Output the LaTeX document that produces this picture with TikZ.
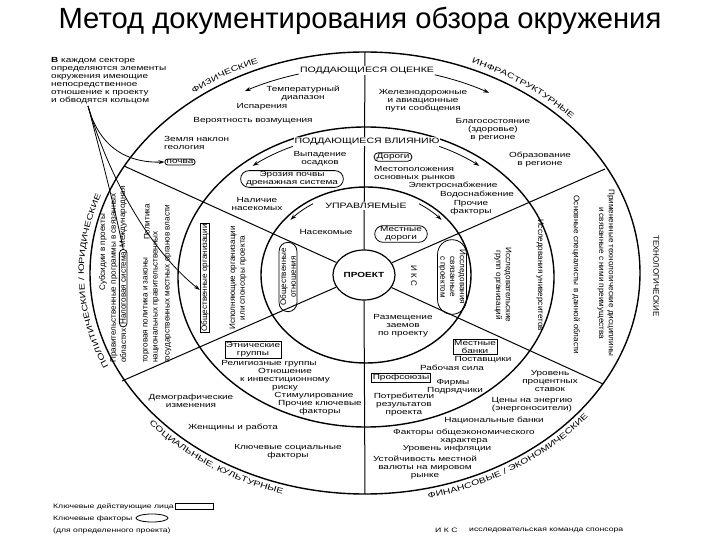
\documentclass[tikz,border=0pt]{standalone}
\usepackage{fontspec}
\setmainfont{Liberation Sans}
\newfontfamily\dfont{Liberation Sans}[FakeStretch=1.35]
\newfontfamily\vfont{Liberation Sans}
\usetikzlibrary{arrows.meta,shapes.geometric,shapes.misc,decorations.text}
\begin{document}
\begin{tikzpicture}[x=1pt,y=-1pt,
  ht/.style={font=\dfont\fontsize{7.4}{8}\selectfont, align=center, inner sep=1pt},
  vt/.style={font=\vfont\fontsize{8.1}{9.8}\selectfont, align=center, inner sep=1pt},
  lab/.style={font=\dfont\fontsize{7.8}{9}\selectfont, inner sep=1pt},
  lg/.style={font=\dfont\fontsize{6.4}{7}\selectfont, inner sep=1pt},
  oval/.style={draw, rounded rectangle, line width=0.8pt, inner sep=1.5pt},
  boxed/.style={draw, rectangle, line width=0.8pt, inner sep=1.5pt},
  ring/.style={line width=1.4pt},
  sec/.style={line width=1pt},
  arr/.style={-{Stealth[length=6pt,width=4pt]}, line width=0.8pt},
  curvlab/.style={decorate, decoration={text along path, text align=center,
     text={|\dfont\fontsize{7.8}{9}\selectfont|#1}}}]
\useasboundingbox (0,0) rectangle (720,540);
% title
\node[font=\fontsize{29.2}{32}\selectfont, inner sep=0] (title) at (360,21) {Метод документирования обзора окружения};
% rings
\draw[ring] (365,273) ellipse [x radius=275, y radius=221];
\draw[ring] (366,277) ellipse [x radius=188, y radius=150];
\draw[ring] (366,275) ellipse [x radius=105, y radius=88];
\node[draw, ellipse, line width=1.2pt, fill=white, minimum width=62, minimum height=50, inner sep=0,
  font=\dfont\bfseries\fontsize{7.4}{8}\selectfont] (P) at (364,275) {ПРОЕКТ};
% sector lines
\coordinate (o1) at (365,52);
\coordinate (o2) at (605,169);
\coordinate (o3) at (603,384);
\coordinate (o4) at (365,494);
\coordinate (o5) at (122,381);
\coordinate (o6) at (124,166);
\draw[sec] (P.north) -- (o1);
\draw[sec] (P) -- (o2);
\draw[sec] (P) -- (o3);
\draw[sec] (P.south) -- (o4);
\draw[sec] (P) -- (o5);
\draw[sec] (P) -- (o6);
% direction arcs
\draw[arr] ([shift={(365,273)}]-105:256 and 206) arc[start angle=-105, end angle=-118, x radius=256, y radius=206];
\draw[arr] ([shift={(365,273)}]-75:256 and 206) arc[start angle=-75, end angle=-61, x radius=256, y radius=206];
\draw[arr] ([shift={(366,277)}]-114:180 and 143) arc[start angle=-114, end angle=-129, x radius=180, y radius=143];
\draw[arr] ([shift={(366,277)}]-66:180 and 143) arc[start angle=-66, end angle=-51, x radius=180, y radius=143];
\draw[arr] ([shift={(366,275)}]-122:100 and 84) arc[start angle=-122, end angle=-139, x radius=100, y radius=84];
\draw[arr] ([shift={(366,275)}]-58:100 and 84) arc[start angle=-58, end angle=-41, x radius=100, y radius=84];
% ring labels
\node[lab, fill=white] (lO) at (367,71) {ПОДДАЮЩИЕСЯ ОЦЕНКЕ};
\node[lab, fill=white] (lV) at (367,142) {ПОДДАЮЩИЕСЯ ВЛИЯНИЮ};
\node[lab, fill=white] (lU) at (366,206) {УПРАВЛЯЕМЫЕ};
% sector labels along the outer ring
\path[curvlab={ФИЗИЧЕСКИЕ}] ([shift={(365,273)}]-150:281 and 227) arc[start angle=-150, end angle=-92, x radius=281, y radius=227];
\path[curvlab={ИНФРАСТРУКТУРНЫЕ}] ([shift={(365,273)}]-85:281 and 227) arc[start angle=-85, end angle=-23, x radius=281, y radius=227];
\path[curvlab={ФИНАНСОВЫЕ / ЭКОНОМИЧЕСКИЕ}] ([shift={(365,273)}]88:285 and 231) arc[start angle=88, end angle=26, x radius=285, y radius=231];
\path[curvlab={СОЦИАЛЬНЫЕ, КУЛЬТУРНЫЕ}] ([shift={(365,273)}]155:285 and 231) arc[start angle=155, end angle=93, x radius=285, y radius=231];
\path[curvlab={ПОЛИТИЧЕСКИЕ / ЮРИДИЧЕСКИЕ}] ([shift={(365,273)}]146:281 and 227) arc[start angle=146, end angle=210, x radius=281, y radius=227];
\node[lab, font=\vfont\fontsize{8}{9}\selectfont, rotate=-90] (sT) at (656,276) {ТЕХНОЛОГИЧЕСКИЕ};
% annotation
\node[ht, align=left, anchor=north west] (ann) at (50,56) {\textbf{В} каждом секторе\\определяются элементы\\окружения имеющие\\непосредственное\\отношение к проекту\\и обводятся кольцом};
% physical
\node[ht] (f1) at (303,93) {Температурный\\диапазон};
\node[ht] (f2) at (262,107) {Испарения};
\node[ht] (f3) at (253,121) {Вероятность возмущения};
\node[ht, align=left, anchor=north west] (f4) at (163,135) {Земля наклон\\геология};
\node[oval, ht] (f5) at (180,162) {почва};
\node[ht] (f6) at (320,159) {Выпадение\\осадков};
\node[oval, ht] (f7) at (292,179) {Эрозия почвы\\дренажная система};
\node[ht] (f8) at (257,204) {Наличие\\насекомых};
\node[ht] (f9) at (326,232) {Насекомые};
% infrastructure
\node[ht] (i1) at (423,101) {Железнодорожные\\и авиационные\\пути сообщения};
\node[ht] (i2) at (493,130) {Благосостояние\\(здоровье)\\в регионе};
\node[ht] (i3) at (540,160) {Образование\\в регионе};
\node[oval, ht] (i4) at (393,157) {Дороги};
\node[ht, align=left, anchor=north west] (i5) at (373,165) {Местоположения\\основных рынков};
\node[ht] (i6) at (453,186) {Электроснабжение};
\node[ht] (i7) at (477,195) {Водоснабжение};
\node[ht] (i8) at (471,208) {Прочие\\факторы};
\node[oval, ht] (i9) at (401,234) {Местные\\дороги};
% technology
\node[vt, rotate=-90] (t1) at (606,273) {Примененные технологические дисциплины\\и связанные с ними преимущества};
\node[vt, rotate=-90] (t2) at (576,275) {Основные специалисты в данной области};
\node[vt, rotate=-90] (t3) at (540,275) {Исследования университетов};
\node[vt, rotate=-90] (t4) at (503,285) {Исследовательские\\групп организаций};
\node[vt, rotate=-90] (t5) at (414,276) {И К С};
\node[oval, vt, rotate=-90] (t6) at (452,277) {Исследования\\связанные\\с проектом};
% finance
\node[ht] (e1) at (403,326) {Размещение\\заемов\\по проекту};
\node[boxed, ht] (e2) at (475,347) {Местные\\банки};
\node[ht] (e3) at (483,360) {Поставщики};
\node[ht] (e4) at (452,368) {Рабочая сила};
\node[boxed, ht] (e5) at (401,378) {Профсоюзы};
\node[ht] (e6) at (453,383) {Фирмы};
\node[ht] (e7) at (455,391) {Подрядчики};
\node[ht] (e8) at (404,405) {Потребители\\результатов\\проекта};
\node[ht] (e9) at (550,381) {Уровень\\процентных\\ставок};
\node[ht] (e10) at (532,405) {Цены на энергию\\(энергоносители)};
\node[ht] (e11) at (494,421) {Национальные банки};
\node[ht] (e12) at (464,437) {Факторы общеэкономического\\характера};
\node[ht] (e13) at (447,449) {Уровень инфляции};
\node[ht] (e14) at (425,468) {Устойчивость местной\\валюты на мировом\\рынке};
% social
\node[boxed, ht] (s1) at (253,350) {Этнические\\группы};
\node[ht] (s2) at (269,364) {Религиозные группы};
\node[ht] (s3) at (285,380) {Отношение\\к инвестиционному\\риску};
\node[ht] (s4) at (314,396) {Стимулирование};
\node[ht] (s5) at (320,408) {Прочие ключевые\\факторы};
\node[ht] (s6) at (191,401) {Демографические\\изменения};
\node[ht] (s7) at (233,428) {Женщины и работа};
\node[ht] (s8) at (288,452) {Ключевые социальные\\факторы};
% political
\node[oval, vt, rotate=90] (p1) at (288,277) {Общественные\\отношения};
\node[vt, rotate=90] (p2) at (238,278) {Исполняющие организации\\или спонсоры проекта};
\node[boxed, vt, rotate=90] (p3) at (205,278) {Общественные организации};
\node[vt, rotate=90, anchor=north west] (q0) at (98,292) {Субсидии в проекты};
\node[vt, rotate=90, anchor=north west] (q1) at (109,364) {Правительственные программы в связанных};
\node[vt, rotate=90, anchor=north west] (q2a) at (119,364) {областях};
\node[oval, vt, rotate=90, anchor=west, inner sep=1pt] (q2b) at (q2a.east) {Налоговая система};
\node[vt, rotate=90, anchor=west] (q2c) at (q2b.east) {Международная};
\node[vt, rotate=90, anchor=north west] (q3a) at (142,364) {торговая политика и законы};
\node[vt, rotate=90] (q3b) at (147,222) {Политика};
\node[vt, rotate=90, anchor=north west] (q4) at (152,364) {национальных правительственных};
\node[vt, rotate=90, anchor=north west] (q5) at (164,364) {государственных местных органов власти};
% annotation pointers
\coordinate (a0) at (88,106);
\draw[arr] (a0) .. controls (100,150) and (130,163) .. (f5.west);
\draw[line width=0.8pt] (a0) .. controls (105,170) and (115,210) .. (q2b.east);
\draw[arr] (a0) .. controls (110,180) and (150,250) .. ([yshift=-12pt]p3.north);
% legend
\node[lg, anchor=west] (k1) at (52,507) {Ключевые действующие лица};
\node[draw, line width=0.8pt, minimum width=38, minimum height=6, inner sep=0] (k1b) at (194,506) {};
\node[lg, anchor=west] (k2) at (52,519) {Ключевые факторы};
\node[draw, line width=0.8pt, ellipse, minimum width=32, minimum height=8, inner sep=0] (k2b) at (152,518) {};
\node[lg, anchor=west] (k3) at (52,531) {(для определенного проекта)};
\node[lg, anchor=west] (k4) at (434,530) {И К С};
\node[lg, anchor=west] (k5) at (468,530) {исследовательская команда спонсора};
\end{tikzpicture}
\end{document}
